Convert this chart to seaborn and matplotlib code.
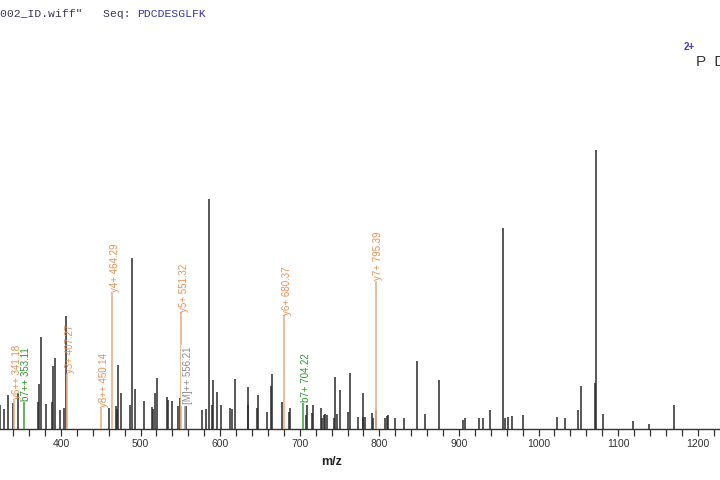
import numpy as np
import pandas as pd
import matplotlib
matplotlib.use("Agg")
import matplotlib.pyplot as plt
from matplotlib.ticker import MultipleLocator
import seaborn as sns

# peak list: m/z and relative intensity (%)
peak_mz = [324.0, 328.8, 333.4, 340.0, 345.6, 370.7, 372.8, 374.5, 380.8, 388.3,
           390.3, 392.5, 398.7, 404.2, 406.3, 460.3, 469.5, 470.3, 472.0, 475.0,
           486.7, 489.2, 493.3, 504.3, 514.7, 515.5, 518.0, 521.0, 532.8, 534.8,
           539.4, 546.6, 549.5, 557.0, 576.7, 582.2, 585.5, 590.0, 591.0, 596.0,
           600.6, 612.3, 615.2, 618.6, 634.5, 635.0, 645.8, 647.9, 658.3, 663.8,
           665.0, 677.3, 686.4, 687.7, 707.8, 709.0, 715.7, 717.0, 726.2, 728.0,
           730.0, 732.0, 734.0, 742.5, 744.2, 747.0, 751.0, 760.0, 763.0, 773.5,
           779.0, 780.0, 782.0, 790.3, 792.0, 796.0, 807.0, 810.0, 811.2, 819.6,
           830.5, 847.2, 856.8, 875.3, 905.5, 907.5, 925.6, 929.8, 939.0, 955.7,
           958.0, 961.3, 966.3, 980.4, 1022.7, 1033.2, 1049.0, 1053.3, 1070.9, 1071.7,
           1081.3, 1119.0, 1138.3, 1169.7]
peak_int = [8.6, 7.1, 12.1, 9.3, 12.9, 9.6, 16.1, 32.9, 8.9, 9.6,
            22.5, 25.4, 6.8, 7.5, 40.4, 7.5, 8.2, 7.1, 22.9, 12.9,
            8.6, 61.4, 14.3, 10.0, 7.9, 7.1, 12.9, 18.2, 11.4, 10.4,
            10.0, 8.2, 11.1, 8.6, 6.8, 7.1, 82.5, 8.6, 17.5, 13.2,
            8.6, 7.5, 7.1, 17.9, 8.6, 15.0, 7.5, 12.1, 6.1, 15.4,
            19.6, 9.6, 6.1, 7.5, 5.0, 8.6, 5.7, 8.6, 7.5, 3.9,
            5.0, 5.4, 5.0, 3.9, 18.6, 5.4, 13.9, 6.1, 20.0, 4.3,
            12.9, 4.3, 4.3, 5.7, 3.9, 6.8, 3.9, 4.6, 5.0, 3.9,
            3.9, 24.3, 5.4, 17.5, 3.2, 3.9, 3.9, 3.9, 6.8, 72.1,
            3.9, 4.3, 4.6, 5.0, 4.3, 3.9, 6.8, 15.4, 16.4, 100.0,
            5.4, 2.9, 1.8, 8.6]

# annotated fragment ions
ion_label = ["y6++ 341.18", "b7++ 353.11", "y3+ 407.27", "y8++ 450.14", "y4+ 464.29",
             "y5+ 551.32", "[M]++ 556.21", "y6+ 680.37", "b7+ 704.22", "y7+ 795.39"]
ion_mz = [341.18, 353.11, 407.27, 450.14, 464.29, 551.32, 556.21, 680.37, 704.22, 795.39]
ion_top = [10.4, 9.6, 19.6, 7.5, 48.9, 41.8, 8.6, 40.7, 9.3, 53.2]
ion_type = ["y", "b", "y", "y", "y", "y", "M", "y", "b", "y"]

ticks = [400, 500, 600, 700, 800, 900, 1000, 1100, 1200]

peaks = pd.DataFrame({"mz": peak_mz, "intensity": peak_int})
ions = pd.DataFrame({"label": ion_label, "mz": ion_mz, "top": ion_top, "type": ion_type})

sns.set_theme(style="white")
plt.rcParams["font.family"] = ["Liberation Sans", "DejaVu Sans"]

ion_colors = {"y": "#E98F52", "b": "#2E9A2E", "M": "#8C8C8C"}
line_colors = {"y": "#EDB086", "b": "#43A843", "M": "#9A9A9A"}

fig = plt.figure(figsize=(7.2, 4.8), dpi=100)
ax = fig.add_axes([0, 51 / 480, 1, 279 / 480])

ax.vlines(peaks["mz"], 0, peaks["intensity"], color="#2A2A2A", lw=1.1)

for _, r in ions.iterrows():
    ax.vlines(r["mz"], 0, r["top"], color=line_colors[r["type"]], lw=1.2, zorder=3)
for _, r in ions.iterrows():
    bbox = dict(facecolor="white", edgecolor="none", pad=1.2) if r["type"] == "M" else None
    ax.text(r["mz"] + 3.5, r["top"] + 0.3, r["label"], rotation=90, ha="center", va="bottom",
            fontsize=7, color=ion_colors[r["type"]], zorder=4, bbox=bbox)

ax.set_xlim(323.4, 1228)
ax.set_ylim(0, 100)
ax.set_xticks(ticks)
ax.xaxis.set_minor_locator(MultipleLocator(20))
ax.set_yticks([])
ax.tick_params(axis="x", which="both", direction="out", length=5, width=0.9,
               color="#333333", labelsize=7.5, labelcolor="#333333", pad=2.5,
               bottom=True)
sns.despine(ax=ax, left=True)
ax.spines["bottom"].set_color("#333333")
ax.spines["bottom"].set_linewidth(1.0)
ax.patch.set_alpha(0)

fig.text(332 / 720, 1 - 462 / 480, "m/z", ha="center", va="center",
         fontsize=9, fontweight="bold", color="#222222")

# header text (cropped on the left, as in the original)
fig.text(0, 1 - 14 / 480, '002_ID.wiff"   Seq:', family="Liberation Mono",
         fontsize=8.2, color="#3A3A55", va="center", ha="left")
fig.text(137 / 720, 1 - 14 / 480, "PDCDESGLFK", family="Liberation Mono",
         fontsize=8.2, color="#3434A8", va="center", ha="left")

fig.text(684 / 720, 1 - 47 / 480, "2+", fontsize=7, fontweight="bold",
         color="#4A32C0", va="center", ha="left")
fig.text(696 / 720, 1 - 62 / 480, "P  D  C  D  E  S  G  L  F  K", fontsize=11,
         color="#333333", va="center", ha="left")

fig.savefig("out.png", dpi=100)
